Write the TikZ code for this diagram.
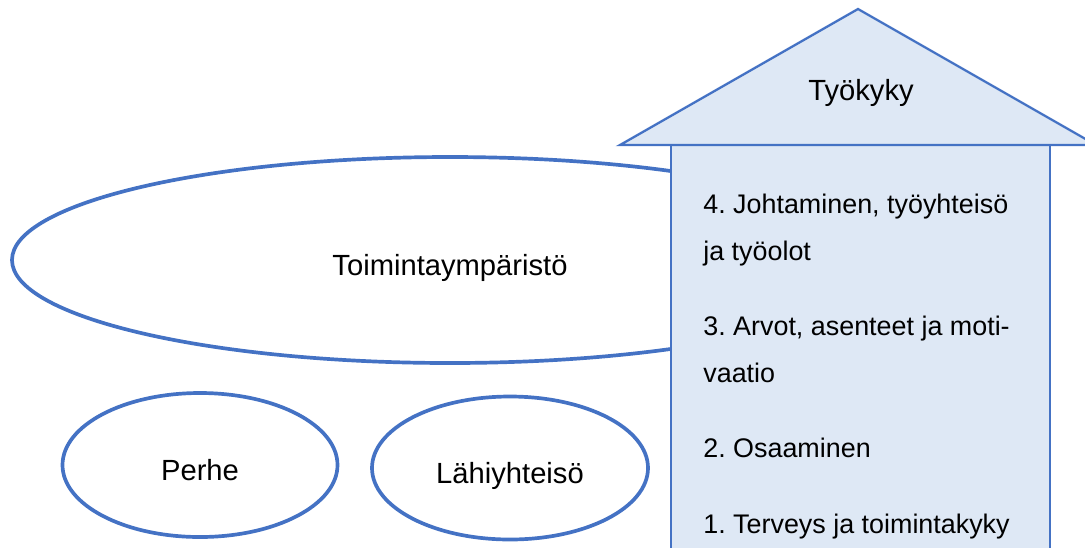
\documentclass[tikz,border=0pt]{standalone}
\usepackage{fontspec}
\setmainfont{Liberation Sans}
\usetikzlibrary{shapes.geometric, positioning}
\definecolor{wordblue}{HTML}{4472C4}
\definecolor{paleblue}{HTML}{DEE8F5}

\begin{document}
\frenchspacing
\begin{tikzpicture}[x=0.2mm, y=-0.2mm, font=\fontsize{16.6}{26.2}\selectfont,
  ring/.style={ellipse, draw=wordblue, line width=2.1pt, inner sep=0pt,
    text height=6mm, text depth=0pt},
  level/.style={anchor=base west, align=left, inner sep=0pt,
    font=\fontsize{15.3}{26.2}\selectfont}]

% Canvas
\useasboundingbox (0,0) rectangle (1085,547);

% --- Ellipses (drawn BEFORE the house) ---
\node[ring, minimum width=175.2mm, minimum height=41.2mm] (ymparisto) at (450,260) {Toimintaympäristö};
\node[ring, minimum width=55mm, minimum height=28.8mm] (perhe) at (200,465) {Perhe};
\node[ring, minimum width=55.2mm, minimum height=28.6mm] (lahiyhteiso) at (510,468) {Lähiyhteisö};

% --- House ---
\draw[wordblue, fill=paleblue, line width=1.3pt] (671,600) -- (671,145) -- (1050,145) -- (1050,600);
\draw[wordblue, fill=paleblue, line width=1.3pt] (620,145) -- (858,9) -- (1096,145) -- cycle;
\node[anchor=base] (tyokyky) at (861,100) {Työkyky};

% Levels of the house (base = last line)
\node[level] (taso4) at (703,260) {4. Johtaminen, työyhteisö\\ja työolot};
\node[level] (taso3) at (703,382) {3. Arvot, asenteet ja moti-\\vaatio};
\node[level] (taso2) at (703,457) {2. Osaaminen};
\node[level] (taso1) at (703,533) {1. Terveys ja toimintakyky};

\end{tikzpicture}
\end{document}
